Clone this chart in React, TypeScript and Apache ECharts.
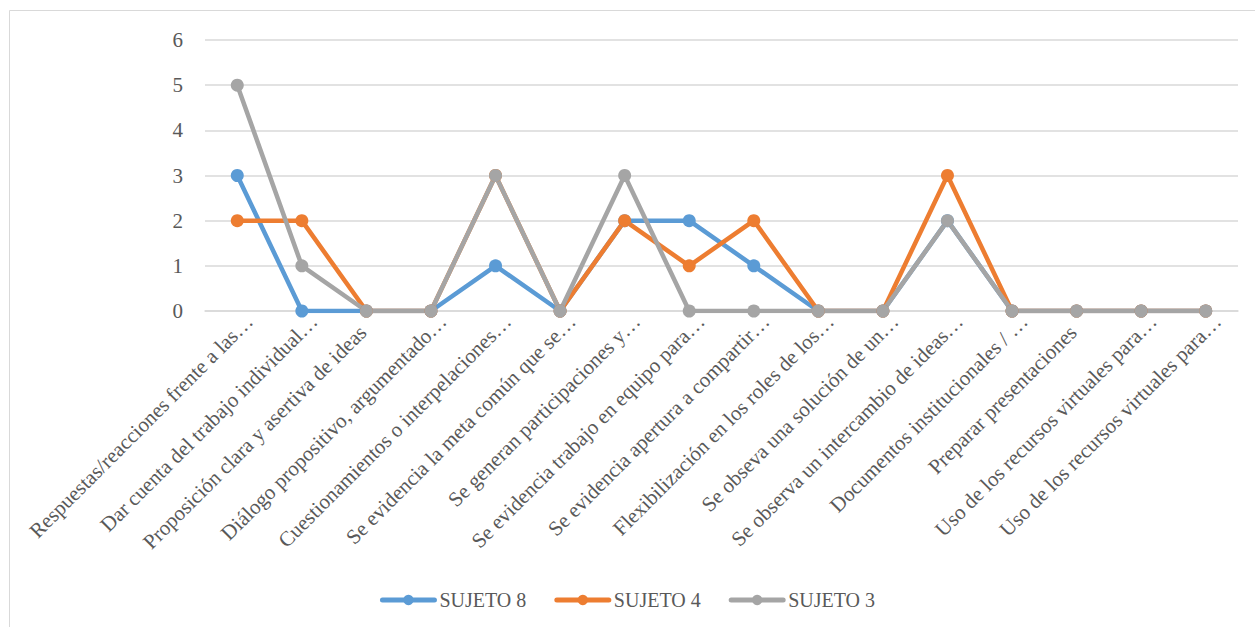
import React, { useEffect, useRef } from "react";
import * as echarts from "echarts";

const categories = [
  "Respuestas/reacciones frente a las…",
  "Dar cuenta del trabajo individual…",
  "Proposición clara y asertiva de ideas",
  "Diálogo propositivo, argumentado…",
  "Cuestionamientos o interpelaciones…",
  "Se evidencia la meta común que se…",
  "Se generan participaciones y…",
  "Se evidencia trabajo en equipo para…",
  "Se evidencia apertura a compartir…",
  "Flexibilización en los roles de los…",
  "Se obseva una solución de un…",
  "Se observa un intercambio de ideas…",
  "Documentos institucionales / …",
  "Preparar presentaciones",
  "Uso de los recursos virtuales para…",
  "Uso de los recursos virtuales para…",
];

const sujeto8 = [3, 0, 0, 0, 1, 0, 2, 2, 1, 0, 0, 2, 0, 0, 0, 0];
const sujeto4 = [2, 2, 0, 0, 3, 0, 2, 1, 2, 0, 0, 3, 0, 0, 0, 0];
const sujeto3 = [5, 1, 0, 0, 3, 0, 3, 0, 0, 0, 0, 2, 0, 0, 0, 0];

const seriesNames = ["SUJETO 8", "SUJETO 4", "SUJETO 3"];
const yTicks = { min: 0, max: 6, interval: 1 };

const FONT = "'Liberation Serif', 'Times New Roman', serif";
const TXT = "#595959";

export default function App() {
  const ref = useRef<HTMLDivElement>(null);
  useEffect(() => {
    if (!ref.current) return;
    const chart = echarts.init(ref.current, null, { renderer: "svg" });
    const mk = (name: string, data: number[], color: string) => ({
      name,
      type: "line",
      data,
      symbol: "circle",
      symbolSize: 13,
      lineStyle: { width: 4.5, color },
      itemStyle: { color },
      emphasis: { disabled: true },
    });
    chart.setOption({
      animation: false,
      backgroundColor: "#ffffff",
      graphic: [
        {
          type: "rect",
          shape: { x: 9.5, y: 10.5, width: 1300, height: 700 },
          style: { fill: "none", stroke: "#d9d9d9", lineWidth: 1 },
          silent: true,
        },
      ],
      grid: { left: 205, right: 17, top: 40, bottom: 316, containLabel: false },
      legend: {
        data: seriesNames,
        bottom: 12,
        left: "center",
        itemWidth: 52,
        itemHeight: 13,
        itemGap: 28,
        lineStyle: { width: 5, cap: "round" },
        textStyle: { fontFamily: FONT, fontSize: 20, color: TXT },
      },
      xAxis: {
        type: "category",
        data: categories,
        boundaryGap: true,
        axisLine: { lineStyle: { color: "#d9d9d9", width: 1.5 } },
        axisTick: { show: false },
        axisLabel: {
          interval: 0,
          rotate: 45,
          margin: -5,
          formatter: (v: string) => (v.endsWith("…") ? "{t|" + v + "}" : "{f|" + v + "}"),
          rich: {
            t: { fontFamily: FONT, fontSize: 21, color: TXT, padding: [34, 0, 0, 0] },
            f: { fontFamily: FONT, fontSize: 21, color: TXT, padding: [27.5, 18.75, 0, 0] },
          },
        },
      },
      yAxis: {
        type: "value",
        min: yTicks.min,
        max: yTicks.max,
        interval: yTicks.interval,
        axisLine: { show: false },
        axisTick: { show: false },
        splitLine: { lineStyle: { color: "#d9d9d9", width: 1.5 } },
        axisLabel: { margin: 22, fontFamily: FONT, fontSize: 21, color: TXT },
      },
      series: [
        mk(seriesNames[0], sujeto8, "#5B9BD5"),
        mk(seriesNames[1], sujeto4, "#ED7D31"),
        mk(seriesNames[2], sujeto3, "#A5A5A5"),
      ],
    });
    return () => chart.dispose();
  }, []);
  return (
    <div
      ref={ref}
      style={{ position: "absolute", left: 0, top: 0, width: 1255, height: 627 }}
    />
  );
}
